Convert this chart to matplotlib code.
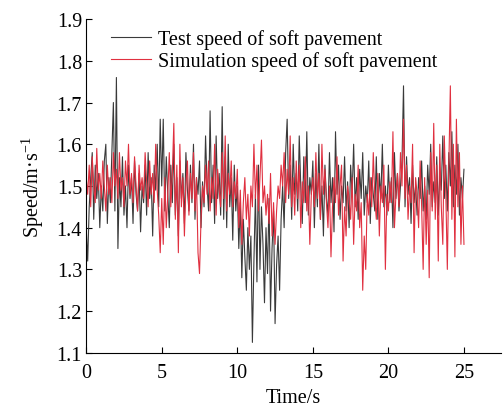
import numpy as np
import matplotlib
matplotlib.use("Agg")
import matplotlib.pyplot as plt

plt.rcParams["font.family"] = ["Liberation Serif", "DejaVu Serif"]
plt.rcParams["mathtext.fontset"] = "custom"
plt.rcParams["mathtext.rm"] = "Liberation Serif"
plt.rcParams["mathtext.it"] = "Liberation Serif:italic"

# time step of the read-off samples (s)
dt = 0.1

test_speed = [
    1.40, 1.32, 1.45, 1.52, 1.58, 1.42, 1.55, 1.47, 1.53, 1.40,
    1.50, 1.44, 1.56, 1.60, 1.41, 1.52, 1.46, 1.58, 1.70, 1.44,
    1.76, 1.35, 1.52, 1.45, 1.57, 1.43, 1.50, 1.40, 1.55, 1.47,
    1.52, 1.41, 1.56, 1.48, 1.44, 1.53, 1.39, 1.50, 1.46, 1.55,
    1.43, 1.58, 1.47, 1.52, 1.38, 1.55, 1.49, 1.60, 1.45, 1.66,
    1.50, 1.66, 1.44, 1.57, 1.48, 1.40, 1.55, 1.46, 1.60, 1.43,
    1.52, 1.38, 1.56, 1.47, 1.53, 1.41, 1.58, 1.49, 1.44, 1.55,
    1.46, 1.60, 1.42, 1.52, 1.48, 1.56, 1.40, 1.51, 1.45, 1.62,
    1.50, 1.44, 1.68, 1.46, 1.55, 1.41, 1.62, 1.47, 1.53, 1.43,
    1.69, 1.42, 1.57, 1.40, 1.60, 1.45, 1.52, 1.37, 1.55, 1.44,
    1.50, 1.35, 1.46, 1.28, 1.42, 1.33, 1.25, 1.40, 1.30, 1.38,
    1.125, 1.32, 1.48, 1.27, 1.55, 1.30, 1.45, 1.36, 1.22, 1.40,
    1.29, 1.47, 1.20, 1.35, 1.44, 1.17, 1.31, 1.38, 1.25, 1.42,
    1.50, 1.40, 1.58, 1.66, 1.47, 1.55, 1.42, 1.60, 1.48, 1.53,
    1.44, 1.62, 1.50, 1.41, 1.57, 1.46, 1.63, 1.43, 1.52, 1.48,
    1.56, 1.40, 1.53, 1.45, 1.60, 1.42, 1.50, 1.38, 1.55, 1.47,
    1.43, 1.58, 1.46, 1.52, 1.39, 1.63, 1.48, 1.55, 1.42, 1.50,
    1.46, 1.57, 1.44, 1.51, 1.40, 1.55, 1.48, 1.60, 1.45, 1.52,
    1.42, 1.54, 1.47, 1.58, 1.43, 1.50, 1.46, 1.56, 1.41, 1.52,
    1.48, 1.44, 1.57, 1.42, 1.53, 1.47, 1.60, 1.45, 1.50, 1.43,
    1.55, 1.46, 1.52, 1.40, 1.58, 1.47, 1.53, 1.44, 1.50, 1.56,
    1.74, 1.45, 1.57, 1.48, 1.52, 1.41, 1.55, 1.46, 1.50, 1.43,
    1.52, 1.47, 1.56, 1.44, 1.50, 1.42, 1.55, 1.48, 1.60, 1.45,
    1.51, 1.46, 1.57, 1.43, 1.53, 1.49, 1.62, 1.47, 1.55, 1.44,
    1.58, 1.50, 1.63, 1.45, 1.55, 1.48, 1.60, 1.43, 1.52, 1.47,
    1.54,
]

sim_speed = [
    1.52, 1.48, 1.55, 1.45, 1.57, 1.50, 1.46, 1.59, 1.49, 1.53,
    1.47, 1.56, 1.50, 1.44, 1.55, 1.48, 1.52, 1.46, 1.58, 1.50,
    1.54, 1.47, 1.58, 1.49, 1.52, 1.45, 1.56, 1.50, 1.60, 1.48,
    1.53, 1.46, 1.57, 1.50, 1.44, 1.55, 1.49, 1.52, 1.47, 1.58,
    1.51, 1.45, 1.56, 1.48, 1.53, 1.46, 1.60, 1.49, 1.43, 1.34,
    1.47, 1.36, 1.52, 1.40, 1.48, 1.58, 1.45, 1.53, 1.65, 1.42,
    1.55, 1.34, 1.60, 1.45, 1.52, 1.38, 1.50, 1.56, 1.43, 1.53,
    1.47, 1.58, 1.44, 1.52, 1.34, 1.29, 1.42, 1.50, 1.46, 1.55,
    1.48, 1.56, 1.44, 1.52, 1.47, 1.60, 1.43, 1.54, 1.49, 1.45,
    1.58, 1.47, 1.62, 1.44, 1.53, 1.48, 1.56, 1.45, 1.51, 1.47,
    1.54, 1.40, 1.49, 1.36, 1.46, 1.52, 1.42, 1.48, 1.38, 1.50,
    1.45, 1.60, 1.47, 1.55, 1.44, 1.52, 1.61, 1.46, 1.50, 1.43,
    1.48, 1.41, 1.53, 1.38, 1.46, 1.36, 1.44, 1.50, 1.47, 1.55,
    1.50, 1.58, 1.46, 1.54, 1.48, 1.62, 1.45, 1.52, 1.43, 1.56,
    1.47, 1.55, 1.40, 1.51, 1.46, 1.57, 1.44, 1.50, 1.36, 1.48,
    1.52, 1.45, 1.58, 1.47, 1.53, 1.42, 1.60, 1.48, 1.54, 1.46,
    1.40, 1.50, 1.33, 1.45, 1.52, 1.46, 1.57, 1.43, 1.50, 1.55,
    1.32, 1.45, 1.38, 1.50, 1.47, 1.42, 1.52, 1.36, 1.48, 1.44,
    1.55, 1.40, 1.46, 1.25, 1.38, 1.30, 1.48, 1.43, 1.52, 1.45,
    1.58, 1.47, 1.42, 1.53, 1.38, 1.50, 1.46, 1.55, 1.30, 1.48,
    1.44, 1.51, 1.46, 1.63, 1.40, 1.48, 1.53, 1.45, 1.58, 1.50,
    1.66, 1.47, 1.55, 1.42, 1.50, 1.46, 1.60, 1.34, 1.52, 1.48,
    1.40, 1.56, 1.45, 1.30, 1.52, 1.36, 1.49, 1.28, 1.58, 1.44,
    1.65, 1.42, 1.55, 1.32, 1.60, 1.45, 1.36, 1.62, 1.48, 1.30,
    1.55, 1.74, 1.42, 1.60, 1.33, 1.66, 1.45, 1.58, 1.36, 1.50,
    1.36,
]

time = np.arange(len(test_speed)) * dt

fig = plt.figure(figsize=(5.04, 4.10), dpi=100)
ax = fig.add_axes([0.171, 0.137, 0.823, 0.814])

ax.plot(time, test_speed, color="#3a3a3a", lw=0.8, label="Test speed of soft pavement")
ax.plot(time, sim_speed, color="#e03040", lw=0.8, label="Simulation speed of soft pavement")

ax.set_xlim(0, 27.45)
ax.set_ylim(1.1, 1.9)
ax.set_xticks([0, 5, 10, 15, 20, 25])
ax.set_yticks(np.arange(1.1, 1.91, 0.1))
ax.yaxis.set_major_formatter(plt.FormatStrFormatter("%.1f"))
ax.tick_params(direction="in", length=4, width=0.8, labelsize=14.5, pad=3)
ax.tick_params(axis="x", pad=7)
ax.spines["top"].set_visible(False)
ax.spines["right"].set_visible(False)

ax.set_xlabel("Time/s", fontsize=14.5, labelpad=5)
ax.set_ylabel("Speed/m·s$^{-1}$", fontsize=14.5, labelpad=8)

ax.legend(loc="upper left", bbox_to_anchor=(0.041, 0.994), borderaxespad=0,
          frameon=False, fontsize=14.5, handlelength=1.95,
          labelspacing=0.1, handletextpad=0.35)

fig.savefig("out.png", dpi=100)
